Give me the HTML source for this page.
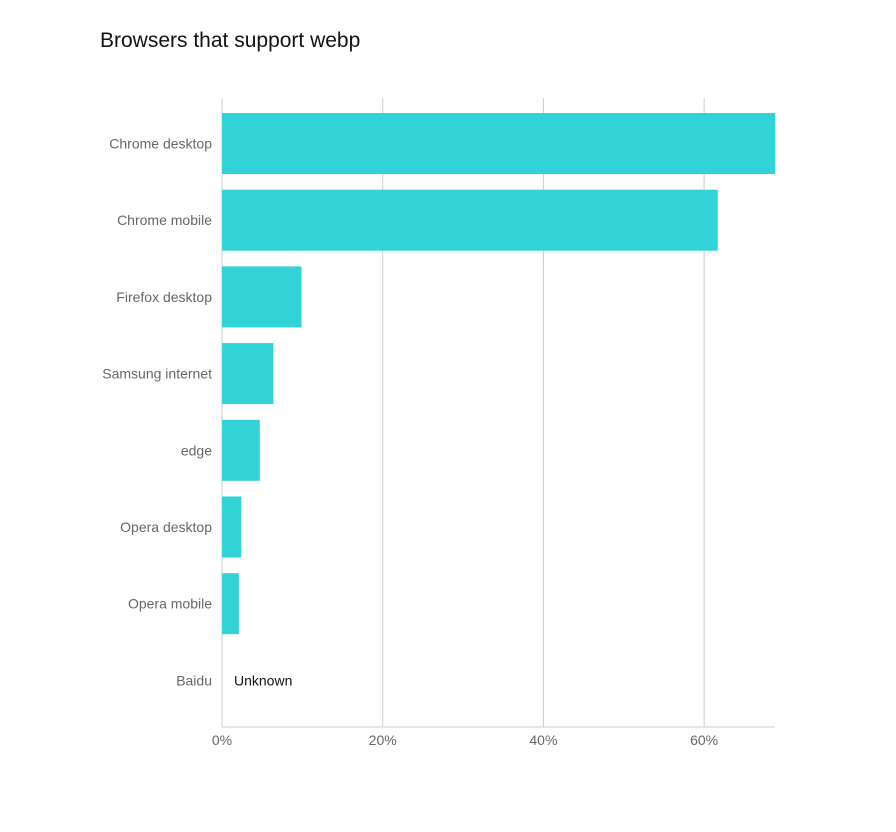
<!DOCTYPE html>
<html><head><meta charset="utf-8"><style>
body{margin:0;background:#fff;font-family:"Liberation Sans",sans-serif;}
</style></head><body>
<svg width="896" height="827" xmlns="http://www.w3.org/2000/svg">
<text x="100" y="47" font-size="21" fill="#111" font-family="Liberation Sans, sans-serif">Browsers that support webp</text>
<g id="grid"></g><g id="bars"></g><g id="labels"></g>
</svg>
<script>
const categories=["Chrome desktop","Chrome mobile","Firefox desktop","Samsung internet","edge","Opera desktop","Opera mobile","Baidu"];
const values=[69,61.7,9.9,6.4,4.7,2.4,2.1,null];
const ticks=[0,20,40,60];
const tickLabels=["0%","20%","40%","60%"];
const NS="http://www.w3.org/2000/svg";
const x0=222,pxPer=8.035,xMax=775,yTop=98,yBot=727,firstC=143.5,step=76.7,bh=61;
const xs=v=>Math.min(x0+v*pxPer,xMax);
const yc=i=>firstC+i*step;
function mk(t,a,p){const e=document.createElementNS(NS,t);for(const k in a)e.setAttribute(k,a[k]);p.appendChild(e);return e;}
const grid=document.getElementById('grid'),bars=document.getElementById('bars'),labels=document.getElementById('labels');
ticks.forEach((t,i)=>{
 const l=mk('line',{x1:xs(t),x2:xs(t),y1:yTop,y2:yBot,stroke:'#ccc','stroke-width':1},grid);
 
 
 const tx=mk('text',{x:xs(t),y:745,'text-anchor':'middle','font-size':14,fill:'#666'},grid);
 tx.textContent=tickLabels[i];
 
 
});
const ax=mk('line',{x1:x0,x2:xMax,y1:yBot,y2:yBot,stroke:'#ccc'},grid);


categories.forEach((c,i)=>{
 const tx=mk('text',{x:212,y:yc(i)+5,'text-anchor':'end','font-size':14,fill:'#666'},labels);
 tx.textContent=c;
 
 
 const v=values[i];
 if(v==null){
  const u=mk('text',{x:234,y:yc(i)+5,'font-size':14,fill:'#111'},labels);
  u.textContent="Unknown";
  
  
 }else{
  const r=mk('rect',{x:x0,y:yc(i)-bh/2,width:xs(v)-x0,height:bh,fill:'#32d3d6'},bars);
  
  
 }
});
</script>
</body></html>
